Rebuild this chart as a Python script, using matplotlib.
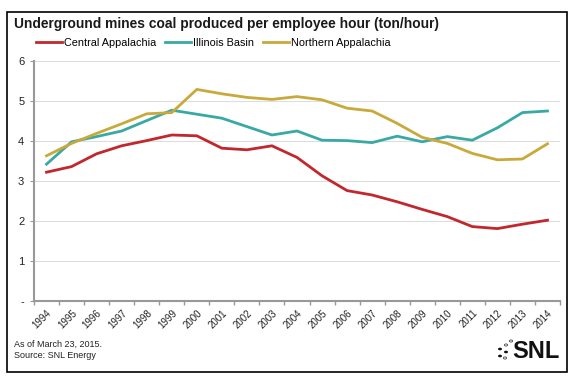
import matplotlib
matplotlib.use("Agg")
import matplotlib.pyplot as plt
from matplotlib.patches import Rectangle, Circle

years = [str(y) for y in range(1994, 2015)]
central_app = [3.22, 3.36, 3.68, 3.88, 4.01, 4.15, 4.13, 3.82, 3.78, 3.88, 3.59,
               3.13, 2.76, 2.65, 2.48, 2.29, 2.11, 1.86, 1.81, 1.92, 2.02]
illinois = [3.42, 3.98, 4.11, 4.25, 4.51, 4.77, 4.67, 4.57, 4.36, 4.15, 4.25,
            4.02, 4.01, 3.96, 4.12, 3.98, 4.11, 4.02, 4.33, 4.71, 4.75]
northern_app = [3.63, 3.94, 4.19, 4.43, 4.68, 4.71, 5.29, 5.18, 5.09, 5.04, 5.11,
                5.03, 4.82, 4.75, 4.44, 4.09, 3.94, 3.69, 3.53, 3.55, 3.93]
series_names = ["Central Appalachia", "Illinois Basin", "Northern Appalachia"]
colors = ["#C1272D", "#38A9A5", "#C8A93A"]
y_ticks = [0, 1, 2, 3, 4, 5, 6]
y_labels = ["-", "1", "2", "3", "4", "5", "6"]

W, H = 574, 379
fig = plt.figure(figsize=(W / 100, H / 100), dpi=100)
plt.rcParams["font.family"] = ["Liberation Sans", "DejaVu Sans"]

# axes placed in pixel terms
ax = fig.add_axes([34 / W, 1 - 301 / H, (560 - 34) / W, (301 - 61) / H])
x = list(range(len(years)))
for vals, c in zip([central_app, illinois, northern_app], colors):
    ax.plot(x, vals, color=c, lw=2.0, solid_joinstyle="round")

ax.set_xlim(-0.5, len(years) - 0.5)
ax.set_ylim(0, 6)
ax.set_yticks(y_ticks)
ax.set_yticklabels(y_labels, fontsize=8, color="#222222")
ax.yaxis.grid(True, color="#DDDDDD", lw=0.8)
ax.set_axisbelow(True)
for s in ["top", "right"]:
    ax.spines[s].set_visible(False)
for s in ["left", "bottom"]:
    ax.spines[s].set_color("#999999")
    ax.spines[s].set_linewidth(1.5)
ax.tick_params(axis="y", length=3, color="#999999", pad=4)

# category ticks between the years, labels centred on the years
ax.set_xticks([i - 0.5 for i in range(len(years) + 1)], minor=True)
ax.set_xticks(x)
ax.set_xticklabels(years, rotation=45, ha="right", va="top",
                   rotation_mode="anchor", fontsize=7, color="#222222")
ax.tick_params(axis="x", which="major", length=0, pad=5)
ax.tick_params(axis="x", which="minor", length=3, color="#999999", width=1)

# title and legend
fig.text(14 / W, 1 - 24 / H, "Underground mines coal produced per employee hour (ton/hour)",
         fontsize=9.9, fontweight="bold", va="center", ha="left", color="#1a1a1a")
handles = [plt.Line2D([], [], color=c, lw=2.0) for c in colors]
fig.legend(handles, series_names, loc="center left", bbox_to_anchor=(36 / W, 1 - 43 / H),
           ncol=3, frameon=False, fontsize=7.8, handlelength=2.4, handletextpad=0.2,
           columnspacing=0.8, borderaxespad=0, borderpad=0)

# footer
fig.text(14 / W, 1 - 344 / H, "As of March 23, 2015.", fontsize=6.5, ha="left",
         va="center", color="#222222")
fig.text(14 / W, 1 - 355 / H, "Source: SNL Energy", fontsize=6.5, ha="left",
         va="center", color="#222222")

# SNL logo
fig.text(560 / W, 1 - 352 / H, "SNL", fontsize=17, fontweight="bold", ha="right",
         va="center", color="#111111")
for px, py in [(500, 349), (506, 352), (500, 356)]:
    fig.patches.append(Circle((px / W, 1 - py / H), 2.0 / W, transform=fig.transFigure,
                              facecolor="#111111", edgecolor="none"))
for px, py in [(506, 345), (511, 341), (505, 358)]:
    fig.patches.append(Circle((px / W, 1 - py / H), 1.6 / W, transform=fig.transFigure,
                              facecolor="white", edgecolor="#444444", lw=0.6))

# outer frame
fig.patches.append(Rectangle((7 / W, 1 - 372 / H), 560 / W, 360 / H, transform=fig.transFigure,
                             fill=False, edgecolor="black", lw=1.2))

fig.savefig("out.png", dpi=100)
